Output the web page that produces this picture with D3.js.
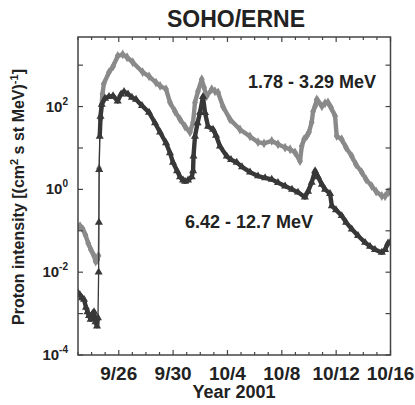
<!DOCTYPE html>
<html><head><meta charset="utf-8">
<script src="https://cdn.jsdelivr.net/npm/d3@7"></script>
<style>
body{margin:0;background:#fff}
text{font-family:"Liberation Sans",Arial,Helvetica,sans-serif;font-weight:bold;fill:#222}
</style>
</head><body><svg id="c" width="415" height="405"></svg>
<script>
// ---- data ----
const startDay = [2001, 8, 23];   // 23 Sep 2001 (UTC, month 0-based)
const endDay = [2001, 9, 16];     // 16 Oct 2001
const tickDays = [3, 7, 11, 15, 19, 23];           // days after 23 Sep
const tickLabels = ["9/26", "9/30", "10/4", "10/8", "10/12", "10/16"];
const yLabelExps = [-4, -2, 0, 2];
const yTickExps = [-4, -3, -2, -1, 0, 1, 2, 3];

// 1.78 - 3.29 MeV (days since 23 Sep 00:00 UT)
const lowDays = [0.00,0.15,0.35,0.55,0.75,0.95,1.15,1.30,1.42,1.50,1.55,1.65,1.80,1.90,2.28,2.58,2.92,3.29,3.61,4.03,4.76,5.23,5.74,6.04,6.48,6.77,7.14,7.51,7.88,8.24,8.47,8.61,8.83,9.11,9.28,9.47,9.84,10.08,10.31,10.67,11.19,11.92,12.66,13.25,13.69,14.26,14.72,15.24,15.61,15.97,16.34,16.47,16.64,16.84,17.00,17.20,17.30,17.45,17.57,17.67,17.95,18.18,18.40,18.62,18.92,19.04,19.41,19.73,20.15,20.46,20.88,21.20,21.62,21.94,22.36,22.60,22.82,22.97];
const lowVals = [0.12,0.13,0.11,0.079,0.05,0.035,0.026,0.018,0.02,0.025,3.2,50,200,355,676,933,1660,1820,1550,1175,676,537,380,316,263,126,76,49,33,24,42,126,234,457,288,178,263,234,219,100,49,28,19,13.8,12.9,14.8,12.3,10.2,9.3,7.8,4.8,11.2,16.2,19.5,24,42,76,102,148,135,102,120,126,95,59,19.5,16.2,10.2,6.3,4.0,2.6,1.74,1.2,0.89,0.69,0.68,0.85,0.89];

// 6.42 - 12.7 MeV
const highDays = [0.00,0.15,0.29,0.44,0.59,0.70,0.81,0.93,1.07,1.18,1.29,1.40,1.47,1.52,1.54,1.56,1.60,1.66,1.75,1.99,2.28,2.58,2.92,3.17,3.39,3.68,3.97,4.27,4.71,5.23,5.67,6.04,6.48,6.77,6.99,7.29,7.51,7.73,7.88,8.10,8.37,8.47,8.50,8.61,8.80,8.98,9.20,9.35,9.57,9.94,10.16,10.45,10.95,11.26,11.68,12.07,12.66,13.25,13.77,14.26,14.72,15.24,15.75,16.19,16.70,16.93,17.20,17.45,17.67,17.95,18.18,18.55,18.68,18.99,19.41,19.73,20.15,20.61,21.13,21.49,21.86,22.36,22.60,22.82,22.97];
const highVals = [0.0032,0.0028,0.0024,0.0022,0.0014,0.0011,0.00089,0.00072,0.001,0.0011,0.00063,0.0005,0.00079,0.01,0.16,3.0,19,58,112,158,174,182,135,200,229,200,166,148,105,72,40,24,13.2,7.6,4.5,2.8,2.0,1.66,1.55,1.66,2.0,2.8,6.3,19,40,72,174,71,33,28,20,11,6.3,5.2,4.5,3.5,2.6,2.1,1.9,1.74,1.45,1.2,1.0,0.85,0.65,0.89,1.48,2.8,2.0,1.32,1.0,0.79,0.40,0.32,0.23,0.16,0.11,0.076,0.052,0.042,0.035,0.030,0.035,0.05,0.052];

// ---- chart ----
const svg = d3.select("#c");
const L = 78, R = 390.5, T = 37, B = 355;
const t0 = Date.UTC(...startDay), t1 = Date.UTC(...endDay);
const toDate = d => new Date(t0 + d * 864e5);
const x = d3.scaleUtc().domain([new Date(t0), new Date(t1)]).range([L, R]);
const y = d3.scaleLog().domain([1e-4, Math.pow(10, 3.68)]).range([B, T]);

svg.append("clipPath").attr("id", "pc").append("rect")
  .attr("x", L).attr("y", T).attr("width", R - L).attr("height", B - T);

function series(days, vals, color, symType) {
  const pts = days.map((d, i) => [toDate(d), vals[i]]);
  const g = svg.append("g").attr("clip-path", "url(#pc)");
  // thick band of dense markers, except on the sharp onsets (thin line there)
  const segs = [];
  for (let i = 1; i < pts.length; i++) {
    const r = pts[i][1] / pts[i - 1][1];
    if (r < 5 && r > 0.2) segs.push([pts[i - 1], pts[i]]);
  }
  g.selectAll("line.b").data(segs).enter().append("line").attr("class", "b")
    .attr("x1", s => x(s[0][0])).attr("y1", s => y(s[0][1]))
    .attr("x2", s => x(s[1][0])).attr("y2", s => y(s[1][1]))
    .attr("stroke", color).attr("stroke-width", 4.4).attr("stroke-linecap", "round");
  g.append("path").datum(pts)
    .attr("d", d3.line().x(p => x(p[0])).y(p => y(p[1])))
    .attr("fill", "none").attr("stroke", color).attr("stroke-width", 1.3);
  g.selectAll("path.m").data(pts).enter().append("path").attr("class", "m")
    .attr("transform", p => `translate(${x(p[0])},${y(p[1])})`)
    .attr("d", d3.symbol().type(symType).size(28))
    .attr("fill", color);
}
series(lowDays, lowVals, "#8a8a8a", d3.symbolDiamond);
series(highDays, highVals, "#383838", d3.symbolTriangle);

// frame
svg.append("rect").attr("x", L).attr("y", T).attr("width", R - L).attr("height", B - T)
  .attr("fill", "none").attr("stroke", "#444").attr("stroke-width", 1.5);

// x ticks (daily, inward top and bottom)
const days = d3.utcDay.range(new Date(t0), new Date(t1 + 1));
const xt = svg.append("g").attr("stroke", "#444").attr("stroke-width", 1.2);
days.forEach(dd => {
  const major = tickDays.some(k => +toDate(k) === +dd);
  const len = major ? 5 : 3;
  xt.append("line").attr("x1", x(dd)).attr("x2", x(dd)).attr("y1", B).attr("y2", B - len);
  xt.append("line").attr("x1", x(dd)).attr("x2", x(dd)).attr("y1", T).attr("y2", T + len);
});
svg.append("g").selectAll("text").data(tickDays).enter().append("text")
  .attr("x", d => x(toDate(d))).attr("y", 380)
  .attr("text-anchor", "middle").attr("font-size", 19)
  .text((d, i) => tickLabels[i]);

// y ticks (every decade, inward left and right)
const yt = svg.append("g").attr("stroke", "#444").attr("stroke-width", 1.2);
yTickExps.forEach(e => {
  const v = Math.pow(10, e);
  yt.append("line").attr("x1", L).attr("x2", L + 5).attr("y1", y(v)).attr("y2", y(v));
  yt.append("line").attr("x1", R).attr("x2", R - 5).attr("y1", y(v)).attr("y2", y(v));
});
yLabelExps.forEach(e => {
  const t = svg.append("text").attr("x", 68).attr("y", y(Math.pow(10, e)) + 5)
    .attr("text-anchor", "end").attr("font-size", 15);
  t.append("tspan").text("10");
  t.append("tspan").attr("font-size", 10).attr("dy", -7).text(String(e).replace("-", "\u2011"));
});

// titles
svg.append("text").attr("x", 236).attr("y", 27).attr("text-anchor", "middle")
  .attr("font-size", 23).text("SOHO/ERNE");
svg.append("text").attr("x", 234).attr("y", 398).attr("text-anchor", "middle")
  .attr("font-size", 18).text("Year 2001");
const yl = svg.append("text").attr("transform", "translate(24,197) rotate(-90)")
  .attr("text-anchor", "middle").attr("font-size", 16);
yl.append("tspan").text("Proton intensity [(cm");
yl.append("tspan").attr("font-size", 11).attr("dy", -6).text("2");
yl.append("tspan").attr("dy", 6).text(" s st MeV)");
yl.append("tspan").attr("font-size", 11).attr("dy", -6).text("-1");
yl.append("tspan").attr("dy", 6).text("]");

svg.append("text").attr("x", 248).attr("y", 88).attr("font-size", 18).text("1.78 - 3.29 MeV");
svg.append("text").attr("x", 185).attr("y", 228).attr("font-size", 18).text("6.42 - 12.7 MeV");
</script>
</body></html>
